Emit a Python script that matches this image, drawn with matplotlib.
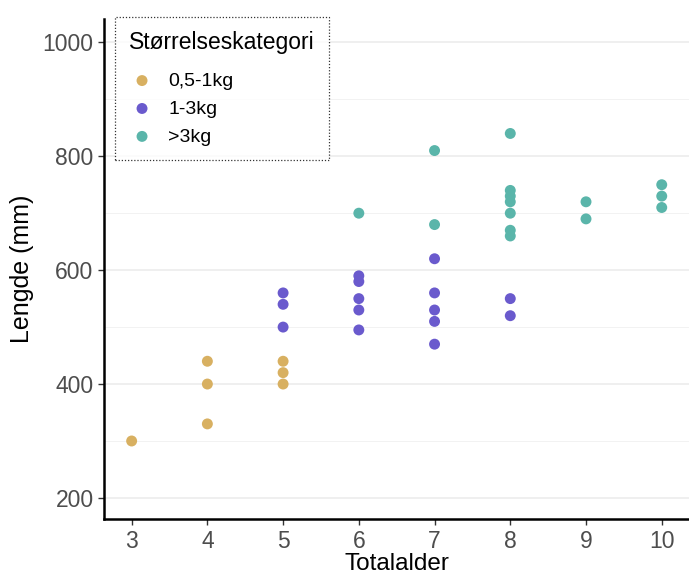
import numpy as np
import matplotlib
matplotlib.use("Agg")
import matplotlib.pyplot as plt
from matplotlib.ticker import MultipleLocator

plt.rcParams["font.family"] = ["Liberation Sans", "DejaVu Sans"]

# age (Totalalder) and length (mm) per size class
age_small = [3, 4, 4, 4, 5, 5, 5]
len_small = [300, 440, 400, 330, 440, 420, 400]

age_mid = [5, 5, 5, 6, 6, 6, 6, 6, 7, 7, 7, 7, 7, 8, 8]
len_mid = [560, 540, 500, 590, 580, 550, 530, 495, 620, 560, 530, 510, 470, 550, 520]

age_big = [6, 7, 7, 8, 8, 8, 8, 8, 8, 8, 9, 9, 10, 10, 10]
len_big = [700, 810, 680, 840, 740, 730, 720, 700, 670, 660, 720, 690, 750, 730, 710]

groups = ["0,5-1kg", "1-3kg", ">3kg"]
colors = ["#D8B061", "#6A5ACD", "#5AB5AA"]
xticks = [3, 4, 5, 6, 7, 8, 9, 10]
yticks = [200, 400, 600, 800, 1000]

fig = plt.figure(figsize=(6.89, 5.78), dpi=100)
ax = fig.add_axes([104 / 689, 1 - 519 / 578, 585 / 689, 500 / 578])

for x, y, lab, c in zip([age_small, age_mid, age_big], [len_small, len_mid, len_big],
                        groups, colors):
    ax.scatter(x, y, s=62, color=c, label=lab, edgecolors="none", zorder=3)

ax.set_xlim(2.635, 10.36)
ax.set_ylim(163, 1041)
ax.set_xticks(xticks)
ax.set_yticks(yticks)
ax.yaxis.set_minor_locator(MultipleLocator(100))
ax.grid(axis="y", which="major", color="#EBEBEB", lw=1.1, zorder=0)
ax.grid(axis="y", which="minor", color="#F2F2F2", lw=0.7, zorder=0)
ax.tick_params(which="minor", left=False)
ax.tick_params(which="major", labelsize=16.5, labelcolor="#4D4D4D", length=4,
               width=1, color="#333333")
ax.tick_params(axis="x", pad=4)

for s in ["top", "right"]:
    ax.spines[s].set_visible(False)
for s in ["left", "bottom"]:
    ax.spines[s].set_linewidth(1.8)
    ax.spines[s].set_color("black")

ax.set_xlabel("Totalalder", fontsize=17.5, labelpad=0)
ax.set_ylabel("Lengde (mm)", fontsize=18, labelpad=6)

leg = ax.legend(title="Størrelseskategori", loc="upper left",
                bbox_to_anchor=(11 / 585, 1.004), borderaxespad=0,
                fontsize=14, title_fontsize=16.5,
                frameon=True, fancybox=False, borderpad=0.72, labelspacing=0.53,
                handlelength=1.34, handletextpad=0.67, alignment="left")
leg._legend_box.sep = 13  # a bit more room under the title
frame = leg.get_frame()
frame.set_edgecolor("black")
frame.set_linestyle((0, (1, 1.5)))
frame.set_linewidth(0.9)

fig.savefig("out.png", dpi=100)
